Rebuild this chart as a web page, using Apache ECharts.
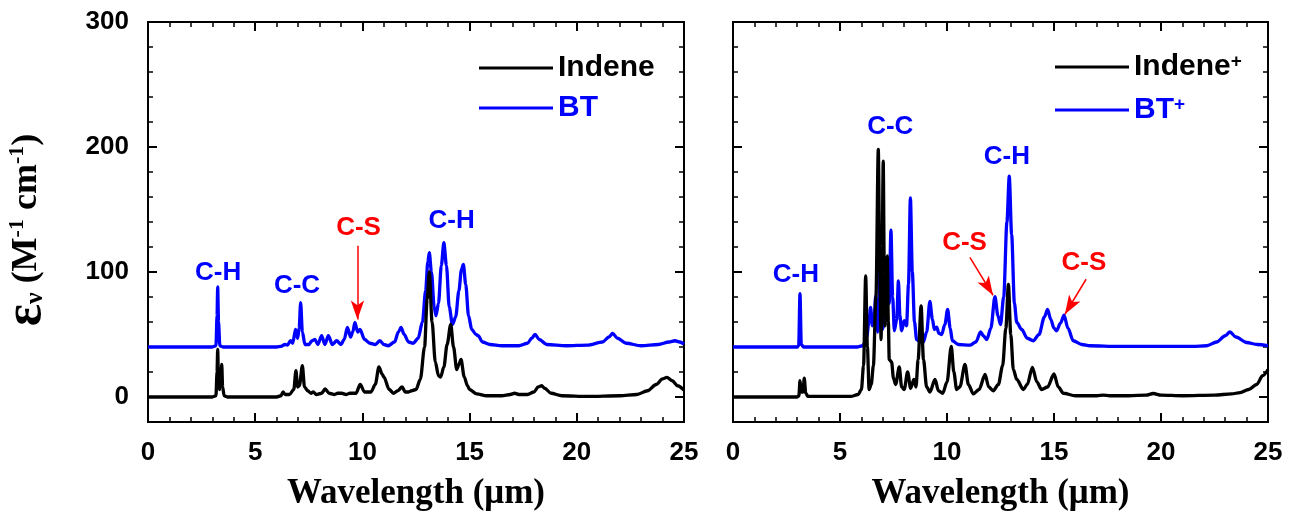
<!DOCTYPE html>
<html><head><meta charset="utf-8">
<script src="https://cdn.jsdelivr.net/npm/echarts@6/dist/echarts.min.js"></script>
<style>html,body{margin:0;padding:0;background:#fff}#c{width:1303px;height:516px}</style>
</head><body><div id="c"></div>
<script>
// ---- data: [wavelength (µm), epsilon (M^-1 cm^-1)] ----
const indene = [[0,0],[3.0,0],[3.17,1],[3.22,20],[3.25,38],[3.29,12],[3.34,6],[3.4,14],[3.44,26],[3.48,8],[3.55,1],[3.7,0],[6.0,0],[6.2,1],[6.3,4],[6.4,2],[6.6,2],[6.8,6],[6.9,21],[6.98,8],[7.06,9],[7.2,25],[7.3,8],[7.45,5],[7.6,3],[7.71,4],[7.85,2],[8.1,3],[8.26,6.4],[8.45,3],[8.7,2],[8.85,3],[9.03,3],[9.25,2],[9.42,3],[9.7,3],[9.9,10],[10.1,4],[10.4,4],[10.6,10],[10.77,24],[10.93,18],[11.0,16],[11.25,6],[11.45,3],[11.65,5],[11.85,8],[12.0,4],[12.15,4],[12.3,5],[12.5,6],[12.7,14],[12.9,40],[13.02,78],[13.12,100],[13.25,60],[13.4,28],[13.55,17],[13.65,16],[13.8,24],[13.95,42],[14.12,58],[14.25,40],[14.4,22],[14.5,26],[14.6,30],[14.75,16],[14.9,9],[15.0,6],[15.33,2.5],[15.8,1],[16.5,1],[16.9,2],[17.1,3],[17.3,2],[17.7,2],[18.0,4],[18.2,8],[18.36,9],[18.5,7],[18.8,3],[19.3,1],[20.5,0.5],[22.0,1],[22.8,2],[23.3,5],[23.7,10],[24.0,14.5],[24.2,15.7],[24.45,13],[24.7,9],[25.0,5.5]];
const bt = [[0,40],[3.0,40],[3.17,41],[3.22,65],[3.25,88],[3.29,60],[3.35,41],[3.5,40],[6.0,40],[6.2,40.5],[6.39,42],[6.5,41.5],[6.65,45],[6.75,43],[6.88,54],[6.98,47],[7.05,55],[7.12,75.5],[7.2,52],[7.32,42],[7.5,42],[7.65,45],[7.79,46],[7.92,42],[8.1,49],[8.25,42],[8.41,49],[8.6,42],[8.8,45],[9.0,42],[9.15,46],[9.3,55.6],[9.45,48],[9.55,52],[9.65,59.6],[9.78,52],[9.89,54],[10.1,46],[10.35,43],[10.6,42],[10.82,45],[11.0,42],[11.2,41],[11.5,44],[11.68,52],[11.8,55.6],[11.95,50],[12.15,44],[12.37,43],[12.6,47],[12.8,60],[12.95,85],[13.05,108],[13.12,115.4],[13.22,100],[13.35,72],[13.43,65],[13.55,75],[13.68,105],[13.8,123.4],[13.92,105],[14.05,72],[14.2,58],[14.35,64],[14.5,85],[14.62,102],[14.71,106],[14.82,90],[14.95,65],[15.1,54],[15.3,50],[15.4,49],[15.6,44],[15.95,42],[16.5,41],[17.3,41],[17.7,43],[17.9,47],[18.05,50],[18.25,46],[18.6,42],[19.5,41],[20.5,41.5],[21.2,44],[21.5,48],[21.67,50.8],[21.9,47],[22.3,43],[23.0,41],[23.8,42],[24.3,44],[24.58,45],[24.8,44],[25.0,42.3]];
const indeneCation = [[0,0],[3.0,0],[3.08,1],[3.13,13],[3.2,4],[3.27,4],[3.33,15],[3.4,3],[3.5,0.5],[5.5,0.5],[5.85,2],[6.0,6],[6.1,25],[6.2,96.8],[6.28,40],[6.36,6],[6.46,10],[6.56,25],[6.68,80],[6.79,198],[6.86,100],[6.92,46],[6.97,120],[7.02,188.6],[7.07,100],[7.1,57],[7.16,90],[7.21,112.8],[7.26,60],[7.3,30],[7.41,28],[7.5,15],[7.6,10],[7.77,24],[7.88,8],[8.0,6],[8.16,20],[8.3,7],[8.45,14],[8.55,8],[8.65,30],[8.79,72.9],[8.9,30],[9.05,8],[9.2,4],[9.44,14],[9.6,5],[9.8,3],[10.0,12],[10.2,40.4],[10.32,20],[10.45,6],[10.6,8],[10.84,26],[11.0,10],[11.23,2.5],[11.5,6],[11.78,18],[11.95,8],[12.16,5],[12.4,10],[12.6,25],[12.75,55],[12.87,90],[12.98,50],[13.1,22],[13.26,14],[13.57,6],[13.75,10],[13.99,23.7],[14.2,12],[14.42,6],[14.7,8],[15.0,18.4],[15.2,8],[15.44,3],[16.0,1],[17.0,1],[17.3,1.5],[17.6,1],[18.5,1],[19.3,1.5],[19.64,2.8],[20.0,1.5],[21.0,1],[22.5,1.5],[23.3,2.5],[23.7,3.5],[24.1,6],[24.47,10],[24.75,17],[25.0,22]];
const btCation = [[0,40],[3.0,40],[3.07,41],[3.13,82.7],[3.19,42],[3.3,40],[5.8,40],[6.05,41],[6.15,43],[6.25,48],[6.35,60],[6.43,71.6],[6.51,57],[6.6,65],[6.67,80.8],[6.76,52],[6.82,70],[6.87,100.8],[6.93,75],[6.98,54],[7.1,62],[7.23,86],[7.3,75],[7.38,133.5],[7.46,80],[7.54,53],[7.65,62],[7.73,92.8],[7.8,65],[7.88,53],[8.0,61],[8.11,57],[8.2,90],[8.29,159.3],[8.38,100],[8.48,60],[8.58,46],[8.75,44],[8.89,43.6],[9.05,52],[9.2,76.4],[9.32,62],[9.41,54],[9.52,55.8],[9.62,51],[9.75,50],[9.9,58],[10.03,70],[10.15,55],[10.25,45],[10.53,42],[11.07,41.5],[11.35,44],[11.57,52],[11.7,49],[11.86,46],[12.05,55],[12.24,80.3],[12.38,65],[12.5,58],[12.65,80],[12.8,140],[12.91,176.6],[13.02,130],[13.15,75],[13.26,59.6],[13.49,54],[13.75,47],[14.03,45],[14.3,50],[14.55,64],[14.7,70],[14.85,62],[15.0,55],[15.12,53],[15.3,59],[15.47,65.4],[15.65,55],[15.9,45],[16.3,42],[16.68,41],[18.0,40.5],[20.0,40.5],[21.5,40.5],[22.13,41],[22.6,44],[23.0,49],[23.22,52],[23.5,48],[24.0,43.6],[24.5,42],[25.0,41]];
const xTicks = [0, 5, 10, 15, 20, 25];
const yTickLabels = [0, 100, 200, 300];
// annotations: [text, wavelength, value, color]
const leftNotes = [['C-H', 3.27, 99.7, 'blue'], ['C-C', 6.95, 88.6, 'blue'], ['C-S', 9.82, 135.6, 'red'], ['C-H', 14.16, 141, 'blue']];
const leftArrows = [[[9.77, 121], [9.77, 62]]];
const rightNotes = [['C-H', 2.94, 97.5, 'blue'], ['C-C', 7.35, 216, 'blue'], ['C-H', 12.8, 192.3, 'blue'], ['C-S', 10.82, 123.7, 'red'], ['C-S', 16.4, 107, 'red']];
const rightArrows = [[[11.07, 111.7], [12.15, 81.4]], [[16.5, 94.2], [15.51, 66.2]]];

const BLUE = '#0000FF', RED = '#FF0000', BLACK = '#000000';
const SANS = 'Liberation Sans', SERIF = 'Liberation Serif';
const colorOf = c => c === 'red' ? RED : BLUE;
const axisLineStyle = {color: BLACK, width: 2};
const TICK_FONT = 26;

function xAxesFor(g) {
  const base = {
    gridIndex: g, type: 'value', min: xTicks[0], max: xTicks[xTicks.length - 1], interval: 5,
    axisLine: {show: true, onZero: false, lineStyle: axisLineStyle},
    axisTick: {show: true, inside: true, length: 9, lineStyle: {color: BLACK, width: 2}},
    minorTick: {show: true, splitNumber: 5, length: 5, lineStyle: {color: BLACK, width: 1.5}},
    splitLine: {show: false}, minorSplitLine: {show: false}
  };
  return [
    Object.assign({}, base, {
      position: 'bottom',
      axisLabel: {show: true, fontSize: TICK_FONT, fontWeight: 'bold', color: BLACK, fontFamily: SANS, margin: 18},
      name: 'Wavelength (\u03bcm)', nameLocation: 'middle', nameGap: 54,
      nameTextStyle: {fontFamily: SERIF, fontWeight: 'bold', fontSize: 35, color: BLACK}
    }),
    Object.assign({}, base, {position: 'top', axisLabel: {show: false}})
  ];
}
function yAxesFor(g) {
  const major = pos => ({
    gridIndex: g, type: 'value', min: -20, max: 300, position: pos,
    axisLine: {show: true, onZero: false, lineStyle: axisLineStyle},
    axisTick: {show: true, inside: true, length: 9, customValues: yTickLabels, lineStyle: {color: BLACK, width: 2}},
    axisLabel: {show: false, customValues: yTickLabels},
    splitLine: {show: false}
  });
  const minor = pos => ({
    gridIndex: g, type: 'value', min: -20, max: 300, interval: 20, position: pos,
    axisLine: {show: true, onZero: false, lineStyle: axisLineStyle},
    axisTick: {show: true, inside: true, length: 5, lineStyle: {color: BLACK, width: 1.5}},
    axisLabel: {show: false}, splitLine: {show: false}
  });
  const left = major('left');
  if (g === 0) {
    left.axisLabel = {show: true, customValues: yTickLabels, fontSize: TICK_FONT, fontWeight: 'bold', color: BLACK, fontFamily: SANS, margin: 19};
    left.name = '{e|\u03b5}{sub|\u03bd}{t| (M}{sup|-1}{t| cm}{sup|-1}{t|)}';
    left.nameLocation = 'middle';
    left.nameRotate = 90;
    left.nameGap = 100;
    left.nameTextStyle = {
      color: BLACK,
      padding: [0, 16, 0, 0],
      rich: {
        e: {fontFamily: SERIF, fontWeight: 'bold', fontSize: 52, color: BLACK, lineHeight: 42},
        sub: {fontFamily: SERIF, fontWeight: 'bold', fontSize: 26, color: BLACK, verticalAlign: 'bottom', lineHeight: 22},
        t: {fontFamily: SERIF, fontWeight: 'bold', fontSize: 36, color: BLACK, lineHeight: 42},
        sup: {fontFamily: SERIF, fontWeight: 'bold', fontSize: 22, color: BLACK, verticalAlign: 'top', lineHeight: 22}
      }
    };
  }
  return [left, minor('left'), major('right'), minor('right')];
}

function notesToMarkPoint(notes) {
  return {
    silent: true, animation: false,
    symbol: 'rect', symbolSize: 1, itemStyle: {color: 'rgba(0,0,0,0)'},
    data: notes.map(n => ({
      coord: [n[1], n[2]],
      label: {show: true, position: 'inside', formatter: n[0], color: colorOf(n[3]),
              fontSize: 26, fontWeight: 'bold', fontFamily: SANS}
    }))
  };
}
function arrowsToMarkLine(arrows) {
  return {
    silent: true, animation: false,
    symbol: ['none', 'arrow'], symbolSize: [10, 19],
    label: {show: false},
    lineStyle: {color: RED, width: 1.5, type: 'solid'},
    itemStyle: {color: RED},
    emphasis: {disabled: true},
    data: arrows.map(a => [{coord: a[0]}, {coord: a[1]}])
  };
}

function lineSeries(name, data, color, xi, yi, extra) {
  return Object.assign({
    name, type: 'line', data, xAxisIndex: xi, yAxisIndex: yi,
    symbol: 'none', smooth: 0.3, smoothMonotone: 'x',
    lineStyle: {color, width: 3.3}, itemStyle: {color},
    animation: false, silent: true
  }, extra || {});
}

const chart = echarts.init(document.getElementById('c'), null, {renderer: 'canvas'});
const legendBase = {
  orient: 'vertical', itemWidth: 74, itemHeight: 3, icon: 'rect', selectedMode: false,
  textStyle: {fontSize: 30, fontWeight: 'bold', fontFamily: SANS, lineHeight: 30}
};
chart.setOption({
  backgroundColor: '#fff',
  animation: false,
  grid: [
    {left: 148, top: 22, width: 536, height: 401},
    {left: 733, top: 22, width: 535, height: 401}
  ],
  xAxis: [...xAxesFor(0), ...xAxesFor(1)],
  yAxis: [...yAxesFor(0), ...yAxesFor(1)],
  legend: [
    Object.assign({}, legendBase, {
      left: 474, top: 48, itemGap: 10,
      data: [{name: 'Indene', textStyle: {color: BLACK}}, {name: 'BT', textStyle: {color: BLUE}}]
    }),
    Object.assign({}, legendBase, {
      left: 1050, top: 47, itemGap: 13,
      data: [{name: 'Indene+'}, {name: 'BT+'}],
      formatter: n => n === 'Indene+' ? '{k|Indene}{ks|+}' : '{b|BT}{bs|+}',
      textStyle: Object.assign({}, legendBase.textStyle, {
        rich: {
          k: {fontSize: 30, fontWeight: 'bold', fontFamily: SANS, color: BLACK, lineHeight: 30},
          ks: {fontSize: 19, fontWeight: 'bold', fontFamily: SANS, color: BLACK, verticalAlign: 'top', lineHeight: 16},
          b: {fontSize: 30, fontWeight: 'bold', fontFamily: SANS, color: BLUE, lineHeight: 30},
          bs: {fontSize: 19, fontWeight: 'bold', fontFamily: SANS, color: BLUE, verticalAlign: 'top', lineHeight: 16}
        }
      })
    })
  ],
  series: [
    lineSeries('BT', bt, BLUE, 0, 0, {markPoint: notesToMarkPoint(leftNotes), markLine: arrowsToMarkLine(leftArrows)}),
    lineSeries('Indene', indene, BLACK, 0, 0),
    lineSeries('BT+', btCation, BLUE, 2, 4, {markPoint: notesToMarkPoint(rightNotes), markLine: arrowsToMarkLine(rightArrows)}),
    lineSeries('Indene+', indeneCation, BLACK, 2, 4)
  ]
});
</script>
</body></html>
